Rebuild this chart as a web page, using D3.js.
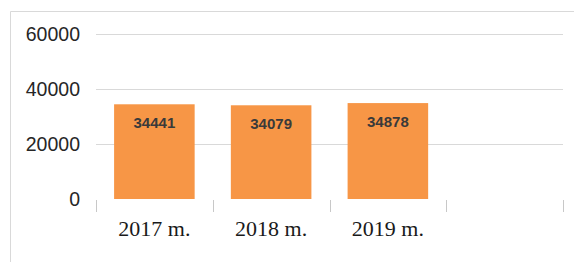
<!DOCTYPE html>
<html>
<head>
<meta charset="utf-8">
<script src="https://cdn.jsdelivr.net/npm/d3@7"></script>
<style>
  html, body { margin: 0; padding: 0; background: #fff; }
  svg { display: block; }
</style>
</head>
<body>
<svg id="chart" width="574" height="262"></svg>
<script>
'use strict';

let categories = ['2017 m.', '2018 m.', '2019 m.', ''];
let values = [34441, 34079, 34878, null];
let yTicks = [0, 20000, 40000, 60000];

let svg = d3.select('#chart');

// chart frame
svg.append('path')
    .attr('d', 'M10.5,262 V11.5 H574')
    .attr('fill', 'none')
    .attr('stroke', '#d9d9d9')
    .attr('stroke-width', 1);

let x = d3.scaleBand()
    .domain(d3.range(categories.length))
    .range([96, 563])
    .paddingInner(0.31)
    .paddingOuter(0.155);

let y = d3.scaleLinear()
    .domain([0, 60000])
    .range([199, 34]);

// gridlines
svg.append('g')
    .selectAll('line')
    .data(yTicks.filter(d => d > 0))
    .enter().append('line')
    .attr('x1', 96)
    .attr('x2', 563)
    .attr('y1', d => Math.round(y(d)) + 0.5)
    .attr('y2', d => Math.round(y(d)) + 0.5)
    .attr('stroke', '#d9d9d9')
    .attr('stroke-width', 1.2);

// y labels
let yAxis = d3.axisLeft(y)
    .tickValues(yTicks)
    .tickFormat(d3.format('d'))
    .tickSize(0)
    .tickPadding(0);
let gy = svg.append('g')
    .attr('transform', 'translate(80,0)')
    .call(yAxis);
gy.select('.domain').remove();
gy.selectAll('text')
    .attr('font-family', '"Liberation Sans", Arial, sans-serif')
    .attr('font-size', 19.5)
    .attr('fill', '#262626')
    .attr('dy', '0.35em');

// category ticks between bands
let step = x.step();
let bounds = d3.range(categories.length + 1).map(i => 96 + i * step);
svg.append('g')
    .selectAll('line')
    .data(bounds)
    .enter().append('line')
    .attr('x1', d => Math.round(d) + 0.5)
    .attr('x2', d => Math.round(d) + 0.5)
    .attr('y1', 200)
    .attr('y2', 212)
    .attr('stroke', '#c8c8c8')
    .attr('stroke-width', 1);

// bars
let barData = values.map((v, i) => ({i: i, v: v})).filter(d => d.v !== null);
svg.append('g')
    .selectAll('rect')
    .data(barData)
    .enter().append('rect')
    .attr('x', d => x(d.i))
    .attr('width', x.bandwidth())
    .attr('y', d => y(d.v))
    .attr('height', d => y(0) - y(d.v))
    .attr('fill', '#f79646');

// data labels
svg.append('g')
    .selectAll('text')
    .data(barData)
    .enter().append('text')
    .attr('x', d => x(d.i) + x.bandwidth() / 2)
    .attr('y', d => y(d.v) + 24)
    .attr('text-anchor', 'middle')
    .attr('font-family', '"Liberation Sans", Arial, sans-serif')
    .attr('font-weight', 'bold')
    .attr('font-size', 15)
    .attr('fill', '#3a3a3a')
    .text(d => d.v);

// category labels
svg.append('g')
    .selectAll('text')
    .data(categories.map((c, i) => ({c: c, i: i})).filter(d => d.c))
    .enter().append('text')
    .attr('x', d => x(d.i) + x.bandwidth() / 2)
    .attr('y', 236)
    .attr('text-anchor', 'middle')
    .attr('font-family', '"Liberation Serif", "Times New Roman", serif')
    .attr('font-size', 22)
    .attr('fill', '#1a1a1a')
    .text(d => d.c);
</script>
</body>
</html>
